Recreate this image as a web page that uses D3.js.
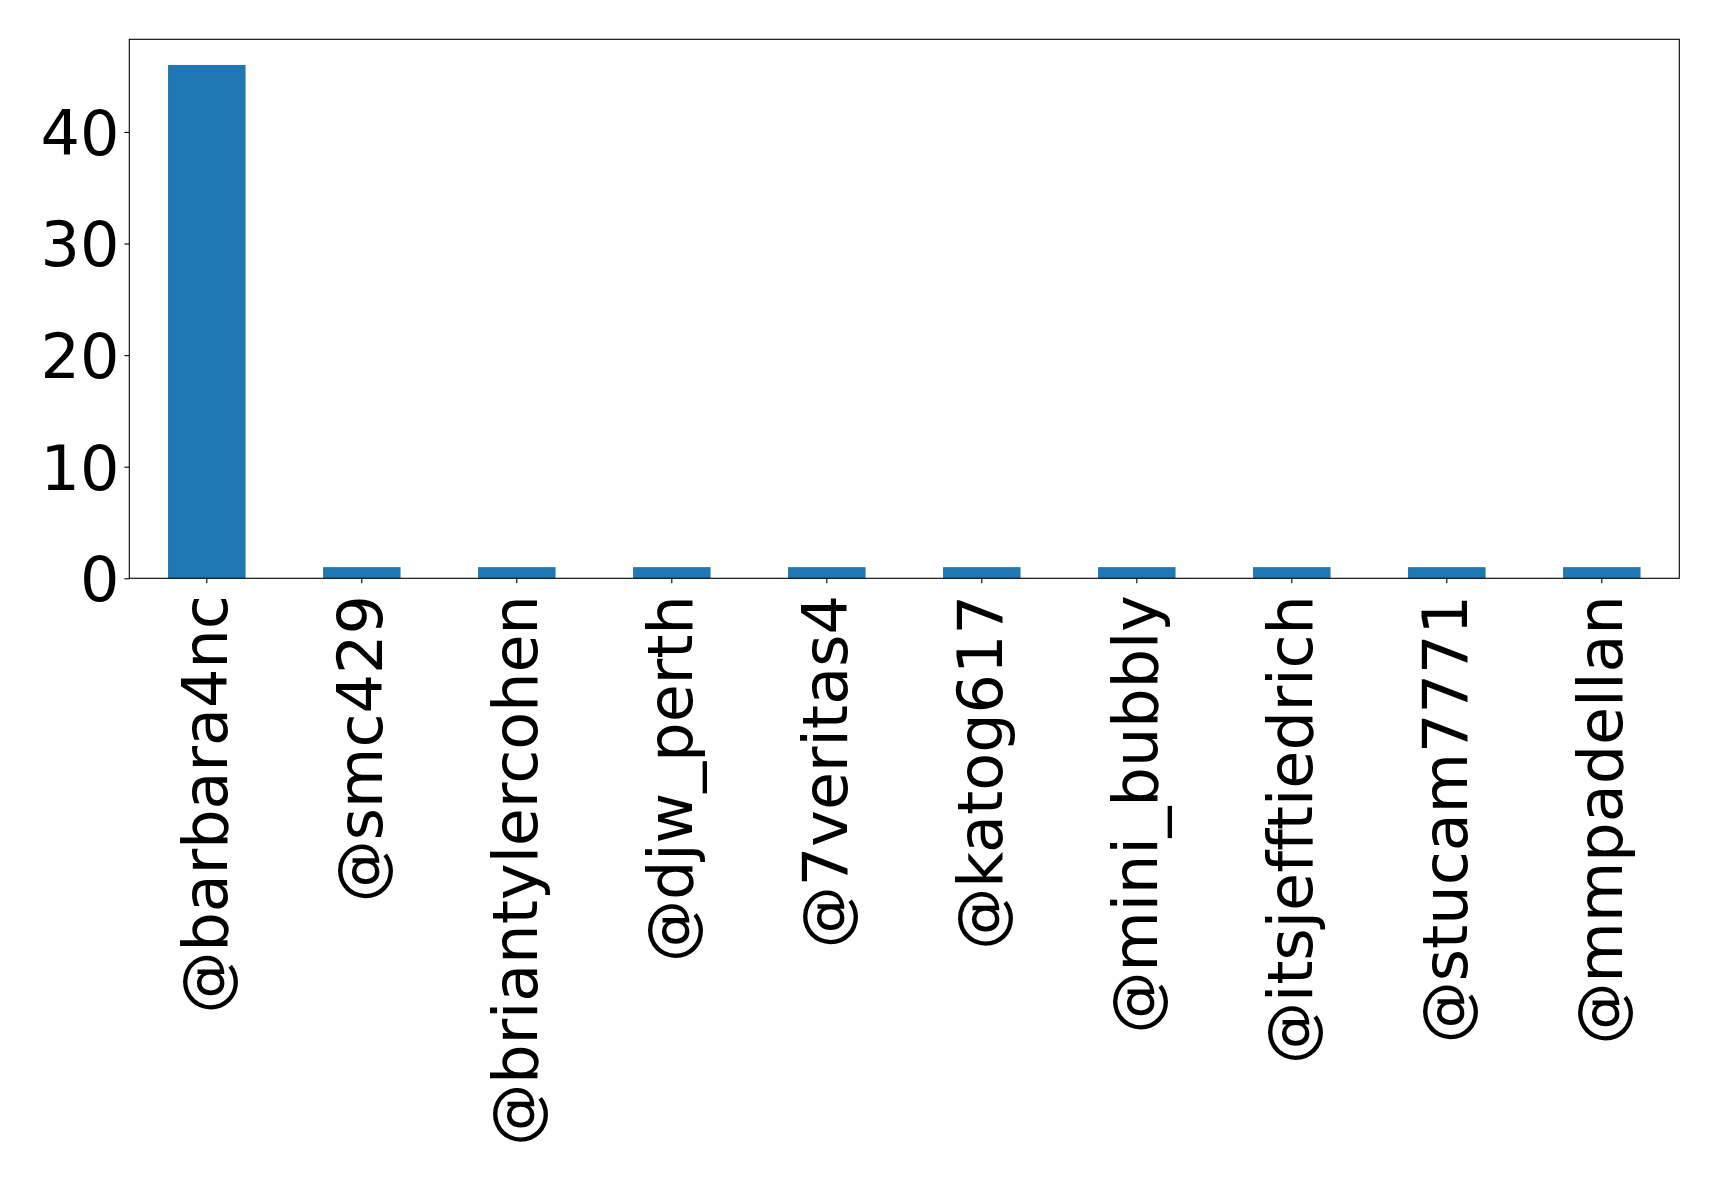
<!DOCTYPE html>
<html>
<head>
<meta charset="utf-8">
<script src="https://cdn.jsdelivr.net/npm/d3@7"></script>
<style>
  html, body { margin: 0; padding: 0; background: #fff; }
  svg { display: block; }
  text { font-variant-ligatures: none; font-feature-settings: "liga" 0, "clig" 0; }
</style>
</head>
<body>
<script>
const categories = ["@barbara4nc", "@smc429", "@briantylercohen", "@djw_perth", "@7veritas4", "@katog617", "@mini_bubbly", "@itsjefftiedrich", "@stucam7771", "@mmpadellan"];
const values = [46, 1, 1, 1, 1, 1, 1, 1, 1, 1];
const yTicks = [0, 10, 20, 30, 40];

const W = 1719, H = 1183;
const margin = { left: 129.3, top: 39.3, right: W - 1679.3, bottom: H - 578.3 };
const font = "'DejaVu Sans', sans-serif";
const fontSize = 62;

const svg = d3.select("body").append("svg").attr("width", W).attr("height", H);

const x = d3.scaleBand().domain(categories).range([margin.left, W - margin.right]).paddingInner(0.5).paddingOuter(0.25);
const y = d3.scaleLinear().domain([0, d3.max(values) * 1.05]).range([H - margin.bottom, margin.top]);

svg.append("g").selectAll("rect").data(values).join("rect")
  .attr("x", (d, i) => x(categories[i]))
  .attr("width", x.bandwidth())
  .attr("y", d => y(d))
  .attr("height", d => y(0) - y(d))
  .attr("fill", "#1f77b4");

const tickLen = 4.9, pad = 4.9;

const yAxis = svg.append("g").attr("transform", `translate(${margin.left},0)`)
  .call(d3.axisLeft(y).tickValues(yTicks).tickSize(tickLen).tickPadding(pad).tickFormat(d3.format("d")));
yAxis.select(".domain").remove();
yAxis.selectAll("line").attr("stroke", "#000").attr("stroke-width", 1.1);
yAxis.selectAll("text").attr("font-family", font).attr("font-size", fontSize).attr("fill", "#000").attr("dy", "0.36em");

const xAxis = svg.append("g").attr("transform", `translate(0,${H - margin.bottom})`)
  .call(d3.axisBottom(x).tickSize(tickLen).tickPadding(pad));
xAxis.select(".domain").remove();
xAxis.selectAll("line").attr("stroke", "#000").attr("stroke-width", 1.1);
xAxis.selectAll("text")
  .attr("font-family", font).attr("font-size", fontSize).attr("fill", "#000")
  .attr("text-anchor", "end")
  .attr("transform", `translate(0,${tickLen + pad + 7}) rotate(-90)`)
  .attr("x", 0).attr("y", 0).attr("dy", "0.32em");

svg.append("rect")
  .attr("x", margin.left).attr("y", margin.top)
  .attr("width", W - margin.left - margin.right)
  .attr("height", H - margin.top - margin.bottom)
  .attr("fill", "none").attr("stroke", "#000").attr("stroke-width", 1.1);
</script>
</body>
</html>
